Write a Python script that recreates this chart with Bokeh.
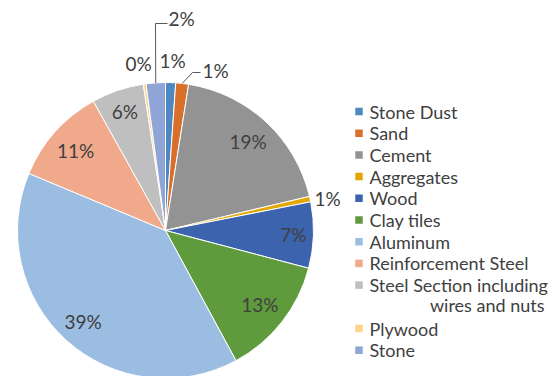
import math

from bokeh.core.properties import value
from bokeh.embed import file_html
from bokeh.models import ColumnDataSource, Range1d
from bokeh.plotting import figure
from bokeh.resources import INLINE

# Share of each material (percent), in the order the slices are drawn
categories = [
    "Stone Dust", "Sand", "Cement", "Aggregates", "Wood", "Clay tiles",
    "Aluminum", "Reinforcement Steel", "Steel Section including wires and nuts",
    "Plywood", "Stone",
]
shares = [1.1, 1.4, 18.8, 0.6, 7.2, 13.0, 39.2, 10.6, 5.7, 0.3, 2.1]
legend_lines = [
    ["Stone Dust"], ["Sand"], ["Cement"], ["Aggregates"], ["Wood"], ["Clay tiles"],
    ["Aluminum"], ["Reinforcement Steel"], ["Steel Section including", "wires and nuts"],
    ["Plywood"], ["Stone"],
]
colors = [
    "#4f88c0", "#d8702c", "#939393", "#e3a800", "#3c63ad", "#5f9a3c",
    "#9bbde2", "#f0a98b", "#bfbfbf", "#ffd38a", "#90a5d7",
]

W, H = 557, 376
CX, CY, R = 165, H - 230, 148
FONT = "Lato"
INK = "#404040"

total = sum(shares)
pct_labels = [f"{round(s / total * 100)}%" for s in shares]

# Angles measured clockwise from 12 o'clock
theta0, theta1 = [], []
acc = 0.0
for s in shares:
    theta0.append(acc / total * 2 * math.pi)
    acc += s
    theta1.append(acc / total * 2 * math.pi)
mid = [(a + b) / 2 for a, b in zip(theta0, theta1)]


def polar(theta, r):
    return CX + r * math.sin(theta), CY + r * math.cos(theta)


p = figure(
    width=W, height=H, output_backend="svg", toolbar_location=None,
    x_range=Range1d(0, W), y_range=Range1d(0, H), min_border=0,
)
p.axis.visible = False
p.grid.visible = False
p.outline_line_color = None
p.background_fill_color = "white"

src = ColumnDataSource(dict(
    cat=categories,
    share=shares,
    start=[math.pi / 2 - t for t in theta1],
    end=[math.pi / 2 - t for t in theta0],
    color=colors,
))
p.wedge(x=CX, y=CY, radius=R, start_angle="start", end_angle="end",
        fill_color="color", line_color="white", line_width=1, source=src)

# Labels placed inside the larger slices
inside = {"Cement": 0.82, "Wood": 0.865, "Clay tiles": 0.81, "Aluminum": 0.83,
          "Reinforcement Steel": 0.815, "Steel Section including wires and nuts": 0.85}
ix, iy, itext = [], [], []
for i, c in enumerate(categories):
    if c in inside:
        x, y = polar(mid[i], R * inside[c])
        ix.append(x)
        iy.append(y)
        itext.append(pct_labels[i])
p.text(x=ix, y=iy, text=itext, text_font=value(FONT), text_font_size="19px",
       text_color=INK, text_align="center", text_baseline="middle")

# Labels outside the thin slices: (x, y-from-top, align)
outside = {
    "Stone Dust": (172, 60, "center"),
    "Sand": (202, 70, "left"),
    "Aggregates": (314, 198, "left"),
    "Plywood": (138, 63, "center"),
    "Stone": (168, 18, "left"),
}
for i, c in enumerate(categories):
    if c in outside:
        x, y, al = outside[c]
        p.text(x=[x], y=[H - y], text=[pct_labels[i]], text_font=value(FONT),
               text_font_size="19px", text_color=INK, text_align=al,
               text_baseline="middle")

# Leader lines from the rim to the outside labels
leaders = {"Sand": [(192, 72), (200, 72)], "Stone": [(155, 23), (167, 23)]}
lx, ly = [], []
for i, c in enumerate(categories):
    if c in leaders:
        x0, y0 = polar(mid[i], R)
        pts = [(x0, y0)] + [(x, H - y) for x, y in leaders[c]]
        lx.append([q[0] for q in pts])
        ly.append([q[1] for q in pts])
p.multi_line(xs=lx, ys=ly, line_color="#595959", line_width=1)

# Legend on the right
LX, LY0, STEP = 358.5, 111.0, 21.7
row = 0
for i, lines in enumerate(legend_lines):
    y = H - (LY0 + row * STEP)
    p.rect(x=[LX], y=[y], width=7.5, height=7.5, fill_color=colors[i], line_color=None)
    p.text(x=[369], y=[y], text=[lines[0]], text_font=value(FONT),
           text_font_size="18px", text_color=INK, text_baseline="middle")
    for extra in lines[1:]:
        row += 1
        y2 = H - (LY0 + row * STEP - 1.5)
        p.text(x=[544], y=[y2], text=[extra], text_font=value(FONT),
               text_font_size="18px", text_color=INK, text_align="right",
               text_baseline="middle")
    row += 1

open("out.html", "w").write(file_html(p, INLINE))
